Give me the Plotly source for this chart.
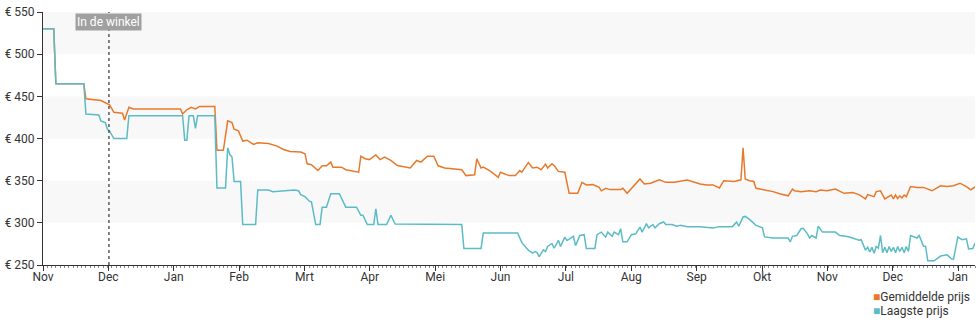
import plotly.graph_objects as go
import pandas as pd

# ---- data -------------------------------------------------------------
avg_dates = [
    "2022-11-01", "2022-11-06", "2022-11-07", "2022-11-20", "2022-11-21", "2022-11-28",
    "2022-12-02", "2022-12-04", "2022-12-08", "2022-12-09", "2022-12-11", "2022-12-13",
    "2023-01-04", "2023-01-05", "2023-01-07", "2023-01-09", "2023-01-11", "2023-01-13",
    "2023-01-20", "2023-01-21", "2023-01-24", "2023-01-26", "2023-01-28", "2023-01-29",
    "2023-01-31", "2023-02-02", "2023-02-04", "2023-02-07", "2023-02-09", "2023-02-14",
    "2023-02-18", "2023-02-21", "2023-02-24", "2023-03-01", "2023-03-03", "2023-03-04",
    "2023-03-06", "2023-03-09", "2023-03-11", "2023-03-13", "2023-03-15", "2023-03-16",
    "2023-03-20", "2023-03-22", "2023-03-28", "2023-03-29", "2023-03-31", "2023-04-02",
    "2023-04-05", "2023-04-07", "2023-04-09", "2023-04-12", "2023-04-15", "2023-04-19",
    "2023-04-21", "2023-04-24", "2023-04-26", "2023-04-29", "2023-05-02", "2023-05-04",
    "2023-05-07", "2023-05-15", "2023-05-17", "2023-05-21", "2023-05-22", "2023-05-24",
    "2023-05-25", "2023-05-28", "2023-05-30", "2023-06-01", "2023-06-02", "2023-06-03",
    "2023-06-06", "2023-06-09", "2023-06-11", "2023-06-12", "2023-06-15", "2023-06-17",
    "2023-06-19", "2023-06-21", "2023-06-23", "2023-06-24", "2023-06-26", "2023-06-27",
    "2023-06-29", "2023-07-02", "2023-07-04", "2023-07-08", "2023-07-10", "2023-07-12",
    "2023-07-15", "2023-07-18", "2023-07-19", "2023-07-21", "2023-07-23", "2023-07-28",
    "2023-07-29", "2023-07-31", "2023-08-03", "2023-08-06", "2023-08-08", "2023-08-11",
    "2023-08-15", "2023-08-18", "2023-08-22", "2023-08-28", "2023-09-03", "2023-09-06",
    "2023-09-09", "2023-09-12", "2023-09-14", "2023-09-19", "2023-09-22", "2023-09-23",
    "2023-09-24", "2023-09-26", "2023-09-28", "2023-09-29", "2023-10-03", "2023-10-07",
    "2023-10-10", "2023-10-14", "2023-10-16", "2023-10-17", "2023-10-20", "2023-10-24",
    "2023-10-27", "2023-10-29", "2023-11-01", "2023-11-05", "2023-11-09", "2023-11-13",
    "2023-11-16", "2023-11-19", "2023-11-20", "2023-11-23", "2023-11-24", "2023-11-26",
    "2023-11-28", "2023-11-30", "2023-12-01", "2023-12-02", "2023-12-03", "2023-12-04",
    "2023-12-05", "2023-12-06", "2023-12-07", "2023-12-08", "2023-12-09", "2023-12-10",
    "2023-12-13", "2023-12-16", "2023-12-20", "2023-12-24", "2023-12-27", "2023-12-30",
    "2024-01-02", "2024-01-05", "2024-01-07", "2024-01-09",
]
avg_prices = [
    530, 530, 465, 465, 447, 445,
    440, 431, 430, 422, 437, 435,
    435, 429, 434, 437, 435, 438,
    438, 386, 386, 421, 419, 411,
    409, 397, 398, 393, 395, 394,
    391, 387, 384.5, 384, 382, 370,
    369, 362, 367.6, 367.6, 372, 366,
    366, 363, 360, 379, 376, 375,
    380.5, 375, 378, 374, 368, 366.5,
    365, 374, 372, 379, 379, 367.6,
    365, 363, 356, 357, 376, 365,
    366, 362, 358, 354, 360, 359,
    356, 356, 362, 360, 371.6, 365,
    366, 363, 369.6, 365, 370, 368,
    361, 360, 335, 335, 348, 345,
    345.3, 342, 338, 341, 339.4, 339.4,
    341, 335, 343, 352, 346, 347,
    351, 348, 348, 350.8, 346, 345,
    345, 341.4, 350, 349, 351, 389,
    352, 350, 349, 341, 339, 337,
    334.5, 332, 340, 338, 337, 338,
    337, 339, 338, 340, 335, 336,
    333.5, 328.4, 333.5, 331, 337, 338,
    328.4, 331, 333, 328.5, 333, 329,
    332, 329.5, 333, 331, 337, 343,
    342, 342, 338, 344, 343, 344,
    347, 343, 339, 342.5,
]

low_dates = [
    "2022-11-01", "2022-11-06", "2022-11-07", "2022-11-20", "2022-11-21", "2022-11-27",
    "2022-11-28", "2022-11-30", "2022-12-01", "2022-12-02", "2022-12-04", "2022-12-10",
    "2022-12-11", "2023-01-05", "2023-01-06", "2023-01-07", "2023-01-08", "2023-01-10",
    "2023-01-11", "2023-01-12", "2023-01-20", "2023-01-21", "2023-01-25", "2023-01-26",
    "2023-01-27", "2023-01-28", "2023-01-29", "2023-02-01", "2023-02-02", "2023-02-08",
    "2023-02-09", "2023-02-14", "2023-02-16", "2023-02-26", "2023-02-28", "2023-03-01",
    "2023-03-03", "2023-03-05", "2023-03-06", "2023-03-08", "2023-03-10", "2023-03-11",
    "2023-03-13", "2023-03-15", "2023-03-19", "2023-03-22", "2023-03-27", "2023-03-29",
    "2023-03-30", "2023-04-01", "2023-04-04", "2023-04-05", "2023-04-06", "2023-04-10",
    "2023-04-12", "2023-04-14", "2023-05-15", "2023-05-16", "2023-05-24", "2023-05-25",
    "2023-06-10", "2023-06-12", "2023-06-15", "2023-06-16", "2023-06-17", "2023-06-18",
    "2023-06-19", "2023-06-20", "2023-06-22", "2023-06-23", "2023-06-24", "2023-06-26",
    "2023-06-27", "2023-06-28", "2023-06-29", "2023-06-30", "2023-07-02", "2023-07-03",
    "2023-07-06", "2023-07-07", "2023-07-09", "2023-07-11", "2023-07-12", "2023-07-16",
    "2023-07-17", "2023-07-19", "2023-07-21", "2023-07-22", "2023-07-24", "2023-07-25",
    "2023-07-27", "2023-07-28", "2023-07-29", "2023-07-31", "2023-08-02", "2023-08-04",
    "2023-08-06", "2023-08-07", "2023-08-09", "2023-08-10", "2023-08-12", "2023-08-13",
    "2023-08-15", "2023-08-17", "2023-08-18", "2023-08-21", "2023-08-23", "2023-08-25",
    "2023-08-28", "2023-09-03", "2023-09-09", "2023-09-12", "2023-09-18", "2023-09-20",
    "2023-09-21", "2023-09-23", "2023-09-24", "2023-09-26", "2023-09-29", "2023-10-02",
    "2023-10-03", "2023-10-07", "2023-10-14", "2023-10-15", "2023-10-16", "2023-10-18",
    "2023-10-20", "2023-10-21", "2023-10-23", "2023-10-24", "2023-10-25", "2023-10-27",
    "2023-10-28", "2023-10-30", "2023-11-05", "2023-11-07", "2023-11-10", "2023-11-13",
    "2023-11-16", "2023-11-17", "2023-11-19", "2023-11-20", "2023-11-21", "2023-11-22",
    "2023-11-23", "2023-11-24", "2023-11-25", "2023-11-26", "2023-11-27", "2023-11-28",
    "2023-11-29", "2023-11-30", "2023-12-01", "2023-12-02", "2023-12-03", "2023-12-04",
    "2023-12-05", "2023-12-06", "2023-12-07", "2023-12-08", "2023-12-09", "2023-12-10",
    "2023-12-11", "2023-12-13", "2023-12-14", "2023-12-16", "2023-12-17", "2023-12-18",
    "2023-12-21", "2023-12-24", "2023-12-27", "2023-12-29", "2023-12-30", "2024-01-01",
    "2024-01-03", "2024-01-05", "2024-01-06", "2024-01-08", "2024-01-09",
]
low_prices = [
    530, 530, 465, 465, 429, 428,
    420.6, 419, 411, 409, 400, 400,
    427, 427, 398, 398, 427, 427,
    412, 427, 427, 341.4, 341.4, 389,
    381, 378, 349, 349, 298, 298,
    339, 339, 337, 339, 338, 333.5,
    331, 325.7, 325, 298, 298, 318.6,
    318.6, 334.5, 334.5, 318.6, 318.6, 309,
    309, 298, 298, 316.7, 298, 298,
    309, 298.5, 298, 269.6, 269.6, 288,
    288, 276.5, 267.6, 266, 264, 266,
    265, 259.8, 268, 266, 272, 275.5,
    270, 274, 279.4, 272, 283, 279,
    284, 273, 285, 286, 269.6, 269.6,
    286, 289, 283, 289, 284, 289,
    286, 293, 277.5, 277.5, 286, 287,
    295, 289, 299, 294, 298, 294,
    299, 301, 298, 298, 296, 297,
    295.5, 295.5, 294, 295.5, 295.5, 301,
    296, 307, 307.6, 304, 297, 294,
    283.3, 282, 282, 277.5, 284, 285,
    293, 293.5, 287, 282, 285, 282,
    296, 289, 289, 285, 284, 282,
    279.4, 280, 267.6, 271, 265.6, 271,
    264, 272, 270, 285, 264.5, 271,
    264.5, 272, 266, 271, 264.5, 272,
    266, 271, 264.5, 272, 266, 285,
    284, 282, 285, 272.4, 272, 255,
    255, 260.6, 262, 257.4, 257, 283.3,
    280, 281, 269, 269.5, 276,
]

y_ticks = [250, 300, 350, 400, 450, 500, 550]
y_tick_labels = ["€ 250", "€ 300", "€ 350", "€ 400", "€ 450", "€ 500", "€ 550"]
x_tick_labels = ["Nov", "Dec", "Jan", "Feb", "Mrt", "Apr", "Mei", "Jun",
                 "Jul", "Aug", "Sep", "Okt", "Nov", "Dec", "Jan"]
band_ranges = [(300, 350), (400, 450), (500, 550)]
marker_date = "2022-12-01 17:00"
marker_label = "In de winkel"
series_names = ["Gemiddelde prijs", "Laagste prijs"]

ORANGE = "#e8792b"
TEAL = "#5bbcc6"
FONT = "Roboto, Arial, sans-serif"

x_start = pd.Timestamp("2022-11-01")
x_end = pd.Timestamp("2024-01-09 00:00")
tick_vals = [x_start + pd.Timedelta(days=30.4375 * k) for k in range(len(x_tick_labels))]

fig = go.Figure()
fig.add_trace(go.Scatter(x=avg_dates, y=avg_prices, mode="lines", name=series_names[0],
                         line=dict(color=ORANGE, width=1.5), showlegend=False))
fig.add_trace(go.Scatter(x=low_dates, y=low_prices, mode="lines", name=series_names[1],
                         line=dict(color=TEAL, width=1.5), showlegend=False))

shapes = []
for lo, hi in band_ranges:
    shapes.append(dict(type="rect", xref="paper", yref="y", x0=0, x1=1, y0=lo, y1=hi,
                       fillcolor="#f8f8f8", line=dict(width=0), layer="below"))
shapes.append(dict(type="line", xref="x", yref="paper", x0=marker_date, x1=marker_date,
                   y0=0, y1=1, line=dict(color="#333333", width=1.2, dash="dot")))

annotations = [
    dict(x=marker_date, xref="x", y=0.962, yref="paper", text=marker_label, showarrow=False,
         font=dict(family=FONT, size=12, color="white"), bgcolor="#a0a0a0",
         borderpad=1, xanchor="center", yanchor="middle"),
    dict(x=1, xref="paper", xshift=-3, y=(265 - 297) / 255, yref="paper", xanchor="right",
         yanchor="middle", showarrow=False, align="left",
         text=f"<span style='color:{ORANGE}'>■</span>{series_names[0]}",
         font=dict(family=FONT, size=12, color="#333333")),
    dict(x=1, xref="paper", xshift=-3, y=(265 - 311) / 255, yref="paper", xanchor="right",
         yanchor="middle", showarrow=False, align="left",
         text=f"<span style='color:{TEAL}'>■</span>{series_names[1]}" + "&nbsp;" * 7,
         font=dict(family=FONT, size=12, color="#333333")),
]

fig.update_layout(
    width=980, height=325,
    margin=dict(l=41, r=5, t=10, b=60),
    paper_bgcolor="white", plot_bgcolor="white",
    font=dict(family=FONT, size=12, color="#333333"),
    shapes=shapes, annotations=annotations,
    xaxis=dict(type="date", range=[x_start, x_end], tickvals=tick_vals, ticktext=x_tick_labels,
               showgrid=False, zeroline=False, showline=True, linecolor="#333333", linewidth=1,
               ticks="outside", ticklen=5, tickcolor="#333333", ticklabelstandoff=-4,
               tickfont=dict(family=FONT, size=12, color="#333333"),
               minor=dict(ticks="outside", ticklen=2, tickcolor="#888888", dtick=86400000 * 2,
                          showgrid=False)),
    yaxis=dict(range=[250, 550], tickvals=y_ticks, ticktext=y_tick_labels,
               showgrid=False, zeroline=False, showline=True, linecolor="#333333", linewidth=1,
               ticks="outside", ticklen=5, tickcolor="#333333",
               tickfont=dict(family=FONT, size=12, color="#333333")),
)

fig.write_html("out.html")
